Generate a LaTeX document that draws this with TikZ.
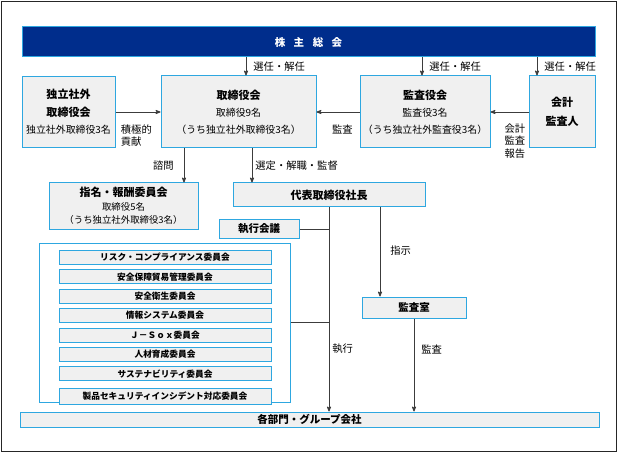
\documentclass[tikz,border=0pt]{standalone}
\usepackage{fontspec}
\setmainfont{Noto Sans CJK JP}
\usepackage{tikz}
\usetikzlibrary{arrows}
\usetikzlibrary{positioning}
\definecolor{navy}{RGB}{0,45,140}
\definecolor{frameblue}{RGB}{46,167,224}
\definecolor{boxfill}{RGB}{240,240,240}
\definecolor{wire}{RGB}{60,60,60}
\newcommand{\boxtitle}[1]{{\fontsize{11}{12}\selectfont\bfseries #1}}
\tikzset{
  orgbox/.style={draw=frameblue, fill=boxfill, line width=1pt,
    align=center, inner sep=0pt},
  committee/.style={orgbox, minimum width=212pt, minimum height=14pt,
    font=\fontsize{8.7}{10}\selectfont\bfseries},
  tag/.style={font=\fontsize{10.3}{12.5}\selectfont, text=black,
    inner sep=1pt, align=left}
}

\begin{document}
\begin{tikzpicture}[x=1pt, y=-1pt,
      >=stealth',
      node distance=4.4pt,
      line width=0.8pt]

    \useasboundingbox (0,0) rectangle (620,454);
    \draw[black!85, line width=1pt] (1.5,1.5) rectangle (616,451.5);

    % shareholders
    \node[fill=navy, draw=frameblue, line width=1pt,
          minimum width=573pt, minimum height=30pt, inner sep=0pt,
          text=white, font=\fontsize{10.5}{12}\selectfont\bfseries]
      (agm) at (308.5,42) {株\hspace{8.5pt}主\hspace{8.5pt}総\hspace{8.5pt}会};

    % upper row
    \node[orgbox, minimum width=93pt, minimum height=71pt,
          font=\fontsize{9.9}{17.5}\selectfont]
      (indep) at (68.5,112) {\boxtitle{独立社外}\\ \boxtitle{取締役会}\\ 独立社外取締役3名};
    \node[orgbox, minimum width=155pt, minimum height=72pt,
          font=\fontsize{9.9}{17}\selectfont]
      (board) at (238.5,112) {\boxtitle{取締役会}\\ 取締役9名\\ （うち独立社外取締役3名）};
    \node[orgbox, minimum width=130pt, minimum height=72pt,
          font=\fontsize{9.9}{17}\selectfont]
      (audit) at (425,112) {\boxtitle{監査役会}\\ 監査役3名\\ （うち独立社外監査役3名）};
    \node[orgbox, minimum width=66pt, minimum height=72pt,
          font=\fontsize{11}{19}\selectfont\bfseries]
      (acct) at (562,112) {会計\\ 監査人};

    % middle row
    \node[orgbox, minimum width=149pt, minimum height=46pt,
          font=\fontsize{9.4}{13.5}\selectfont]
      (nomin) at (123.5,206) {\boxtitle{指名・報酬委員会}\\ 取締役5名\\ （うち独立社外取締役3名）};
    \node[orgbox, minimum width=192pt, minimum height=24pt,
          font=\fontsize{11}{12}\selectfont\bfseries]
      (pres) at (329,195) {代表取締役社長};
    \node[orgbox, minimum width=80pt, minimum height=19pt,
          font=\fontsize{10.5}{12}\selectfont\bfseries]
      (exec) at (259,229) {執行会議};
    \node[orgbox, minimum width=104pt, minimum height=21pt,
          font=\fontsize{10.5}{12}\selectfont\bfseries]
      (office) at (414,307.5) {監査室};

    % committees
    \node[draw=frameblue, fill=white, line width=1pt,
          minimum width=251pt, minimum height=159pt]
      (commgroup) at (164.5,322.5) {};
    \node[committee] (c1) at (165,257.5) {リスク・コンプライアンス委員会};
    \node[committee] (c2) [below=of c1] {安全保障貿易管理委員会};
    \node[committee] (c3) [below=of c2] {安全衛生委員会};
    \node[committee] (c4) [below=of c3] {情報システム委員会};
    \node[committee] (c5) [below=of c4] {Ｊ－Ｓｏｘ委員会};
    \node[committee] (c6) [below=of c5] {人材育成委員会};
    \node[committee] (c7) [below=of c6] {サステナビリティ委員会};
    \node[committee, minimum height=16pt]
      (c8) [below=6.5pt of c7] {製品セキュリティインシデント対応委員会};

    % departments
    \node[orgbox, minimum width=579pt, minimum height=15pt,
          font=\fontsize{10.5}{12}\selectfont\bfseries]
      (depts) at (309.5,419.5) {各部門・グループ会社};

    % anchor points
    \coordinate (selB) at ([xshift=7.5pt]board.north);
    \coordinate (selA) at ([xshift=-3pt]audit.north);
    \coordinate (selC) at ([xshift=-25pt]acct.north);
    \coordinate (ask) at ([xshift=-54.5pt]board.south);
    \coordinate (pick) at ([xshift=13.5pt]board.south);
    \coordinate (order) at ([xshift=51pt]pres.south);

    \path[->, color=wire]
      (agm.south -| selB) edge node[tag, right=6pt] {選任・解任} (selB)
      (agm.south -| selA) edge node[tag, right=6pt] {選任・解任} (selA)
      (agm.south -| selC) edge node[tag, right=6pt] {選任・解任} (selC)
      (indep) edge node[tag, pos=0, below right=11pt and 4pt] {積極的\\ 貢献} (board)
      (audit) edge node[tag, pos=0.4, below=11pt] {監査} (board)
      (acct) edge node[tag, pos=0, below left=10pt and 2pt] {会計\\ 監査\\ 報告} (audit)
      (ask) edge node[tag, left=9pt] {諮問} (ask |- nomin.north)
      (pick) edge node[tag, right=2pt] {選定・解職・監督} (pick |- pres.north)
      (order) edge node[tag, pos=0.48, right=9pt] {指示} (order |- office.north)
      (pres.south) edge node[tag, pos=0.69, right=2pt] {執行} (pres.south |- depts.north)
      (office.south) edge node[tag, pos=0.33, right=6pt] {監査} (office.south |- depts.north);

    \path[-, color=wire]
      (exec.east) edge (exec.east -| pres.south)
      (commgroup.east) edge (commgroup.east -| pres.south);

  \end{tikzpicture}
\end{document}
